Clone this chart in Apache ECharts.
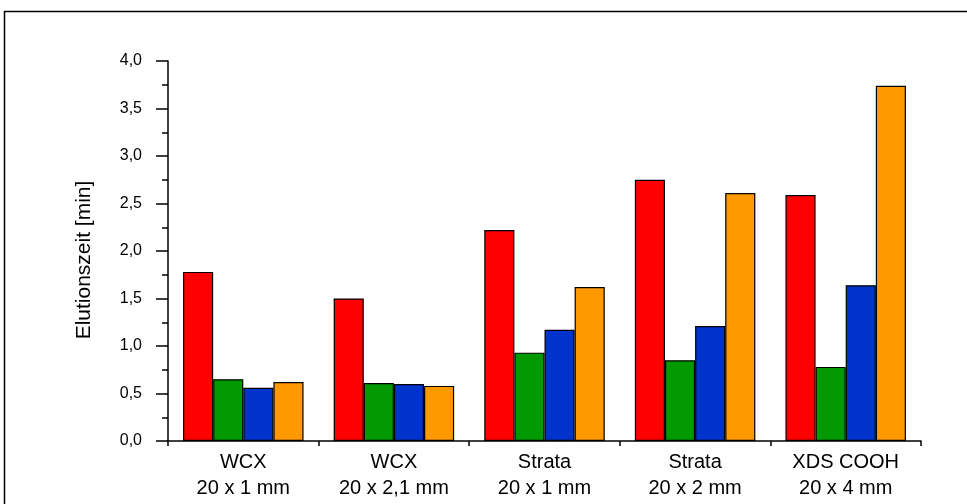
<!DOCTYPE html>
<html>
<head>
<meta charset="utf-8">
<title>Elutionszeit</title>
<script src="https://cdn.jsdelivr.net/npm/echarts@6/dist/echarts.min.js"></script>
<style>
  html, body { margin: 0; padding: 0; background: #fff; }
  #chart { width: 967px; height: 504px; }
</style>
</head>
<body>
<div id="chart"></div>
<script>
// Säulen / Kategorien
const columns = ['WCX\n20 x 1 mm', 'WCX\n20 x 2,1 mm', 'Strata\n20 x 1 mm', 'Strata\n20 x 2 mm', 'XDS COOH\n20 x 4 mm'];

// Elutionszeiten [min] je Substanz
const seriesRed    = [1.78, 1.50, 2.22, 2.75, 2.59];
const seriesGreen  = [0.65, 0.61, 0.93, 0.85, 0.78];
const seriesBlue   = [0.56, 0.60, 1.17, 1.21, 1.64];
const seriesOrange = [0.62, 0.58, 1.62, 2.61, 3.74];

// y-Achse
const yMin = 0;
const yMax = 4;
const yStep = 0.5;

const FONT = 'Liberation Sans, Arial, sans-serif';

const chart = echarts.init(document.getElementById('chart'));

function bar(name, data, color) {
  return {
    name: name,
    type: 'bar',
    data: data,
    barGap: '0%',
    barCategoryGap: '20%',
    itemStyle: { color: color, borderColor: '#000', borderWidth: 1.2 },
    emphasis: { disabled: true }
  };
}

chart.setOption({
  animation: false,
  backgroundColor: '#fff',
  textStyle: { fontFamily: FONT, color: '#000' },
  graphic: [{
    type: 'rect',
    shape: { x: 4.5, y: 11.5, width: 1000, height: 600 },
    style: { fill: 'none', stroke: '#000', lineWidth: 1.5 },
    silent: true
  }],
  grid: { left: 168, right: 46, top: 61, bottom: 63 },
  xAxis: {
    type: 'category',
    data: columns,
    boundaryGap: true,
    axisLine: { lineStyle: { color: '#000', width: 1.5 } },
    axisTick: { show: true, interval: 0, length: 5, lineStyle: { color: '#000', width: 1.5 } },
    axisLabel: {
      interval: 0,
      margin: 8,
      fontFamily: FONT,
      fontSize: 20,
      lineHeight: 26,
      color: '#000'
    },
    splitLine: { show: false }
  },
  yAxis: {
    type: 'value',
    min: yMin,
    max: yMax,
    interval: yStep,
    name: 'Elutionszeit [min]',
    nameLocation: 'middle',
    nameGap: 73,
    nameTextStyle: { fontFamily: FONT, fontSize: 21, color: '#000', padding: [0, 18, 0, 0] },
    axisLine: { show: true, lineStyle: { color: '#000', width: 1.5 } },
    axisTick: { show: true, length: 12, lineStyle: { color: '#000', width: 1.5 } },
    minorTick: { show: true, splitNumber: 2, length: 6, lineStyle: { color: '#000', width: 1.5 } },
    splitLine: { show: false },
    axisLabel: {
      margin: 26,
      fontFamily: FONT,
      fontSize: 16,
      color: '#000',
      formatter: v => v.toFixed(1).replace('.', ',')
    }
  },
  series: [
    bar('Reihe 1', seriesRed, '#ff0000'),
    bar('Reihe 2', seriesGreen, '#009900'),
    bar('Reihe 3', seriesBlue, '#0033cc'),
    bar('Reihe 4', seriesOrange, '#ff9900')
  ]
});
</script>
</body>
</html>
